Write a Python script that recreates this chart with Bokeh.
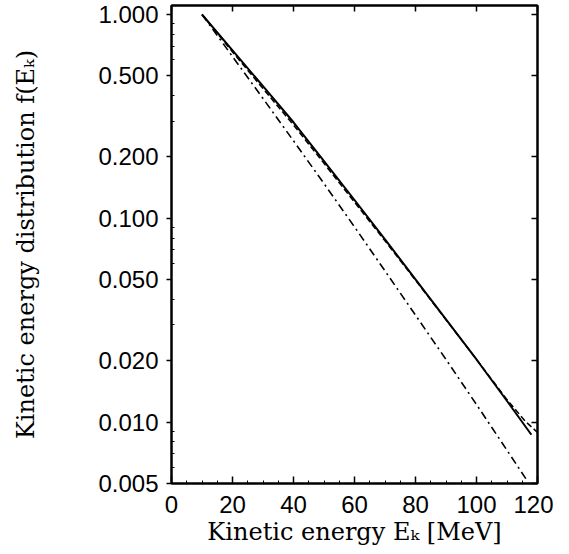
from bokeh.plotting import figure
from bokeh.models import LinearAxis, LogAxis, FixedTicker, Range1d, PrintfTickFormatter
from bokeh.embed import file_html
from bokeh.resources import INLINE

# ---- data ----
x_solid = [10, 20, 30, 40, 50, 60, 70, 80, 90, 100, 110, 118]
y_solid = [1.0, 0.667, 0.445, 0.296, 0.191, 0.123, 0.0789, 0.0502, 0.0319, 0.0203, 0.0127, 0.00867]

x_dashed = [10, 20, 30, 40, 50, 60, 70, 80, 90, 100, 110, 116, 120]
y_dashed = [1.0, 0.655, 0.433, 0.287, 0.186, 0.120, 0.0775, 0.0497, 0.0318, 0.0203, 0.0129, 0.0101, 0.0089]

x_dashdot = [10, 20, 30, 40, 50, 60, 70, 80, 90, 100, 110, 116.5]
y_dashdot = [1.0, 0.622, 0.387, 0.240, 0.148, 0.0908, 0.0552, 0.0335, 0.0203, 0.0122, 0.00728, 0.00519]

x_ticks = [0, 20, 40, 60, 80, 100, 120]
x_minor = [v for v in range(0, 121, 5) if v % 20 != 0]
y_ticks = [0.005, 0.01, 0.02, 0.05, 0.1, 0.2, 0.5, 1.0]
y_minor = [0.006, 0.007, 0.008, 0.009, 0.03, 0.04, 0.06, 0.07, 0.08, 0.09,
           0.3, 0.4, 0.6, 0.7, 0.8, 0.9]

x_title = "Kinetic energy E\u2096 [MeV]"
y_title = "Kinetic energy distribution f(E\u2096)"

TICK_FONT = "Liberation Sans"
LABEL_FONT = "DejaVu Serif"

p = figure(frame_width=366, frame_height=478, y_axis_type="log",
           x_range=Range1d(0, 120), y_range=Range1d(0.005, 1.107),
           min_border_left=171, min_border_right=16, min_border_top=5,
           min_border_bottom=40, output_backend="svg", toolbar_location=None,
           background_fill_color="white", border_fill_color="white")
p.grid.visible = False
p.outline_line_color = "black"
p.outline_line_width = 2

p.line(x_solid, y_solid, line_color="black", line_width=2)
p.line(x_dashed, y_dashed, line_color="black", line_width=1.5, line_dash="6 3")
p.line(x_dashdot, y_dashdot, line_color="black", line_width=1.6, line_dash="8 4 2 4")

# bottom axis
xa = p.xaxis[0]
xa.ticker = FixedTicker(ticks=x_ticks, minor_ticks=x_minor)
xa.major_tick_in = 7
xa.major_tick_out = 0
xa.minor_tick_in = 3
xa.minor_tick_out = 0
xa.axis_line_width = 2
xa.major_tick_line_width = 1.5
xa.major_label_text_font = TICK_FONT
xa.major_label_text_font_size = "24px"
xa.major_label_text_color = "black"
xa.major_label_standoff = 12
xa.axis_label = x_title
xa.axis_label_text_font = LABEL_FONT
xa.axis_label_text_font_size = "24px"
xa.axis_label_text_font_style = "normal"
xa.axis_label_text_color = "black"
xa.axis_label_standoff = 2

# left axis
ya = p.yaxis[0]
ya.ticker = FixedTicker(ticks=y_ticks, minor_ticks=y_minor)
ya.formatter = PrintfTickFormatter(format="%.3f")
ya.major_tick_in = 0
ya.major_tick_out = 5
ya.minor_tick_in = 3
ya.minor_tick_out = 0
ya.axis_line_width = 2
ya.major_tick_line_width = 1.5
ya.major_label_text_font = TICK_FONT
ya.major_label_text_font_size = "24px"
ya.major_label_text_color = "black"
ya.major_label_standoff = 8
ya.axis_label = y_title
ya.axis_label_text_font = LABEL_FONT
ya.axis_label_text_font_size = "24px"
ya.axis_label_text_font_style = "normal"
ya.axis_label_text_color = "black"
ya.axis_label_standoff = 55

# top and right mirror axes: tick marks only (ticks given as minor ticks -> no labels)
top = LinearAxis(ticker=FixedTicker(ticks=[], minor_ticks=x_ticks),
                 minor_tick_in=6, minor_tick_out=0, major_tick_in=0, major_tick_out=0,
                 axis_line_width=2, minor_tick_line_width=1.5, major_label_standoff=0)
p.add_layout(top, "above")
right = LogAxis(ticker=FixedTicker(ticks=[], minor_ticks=y_ticks),
                minor_tick_in=6, minor_tick_out=0, major_tick_in=0, major_tick_out=0,
                axis_line_width=2, minor_tick_line_width=1.5, major_label_standoff=0)
p.add_layout(right, "right")

open("out.html", "w").write(file_html(p, INLINE))
